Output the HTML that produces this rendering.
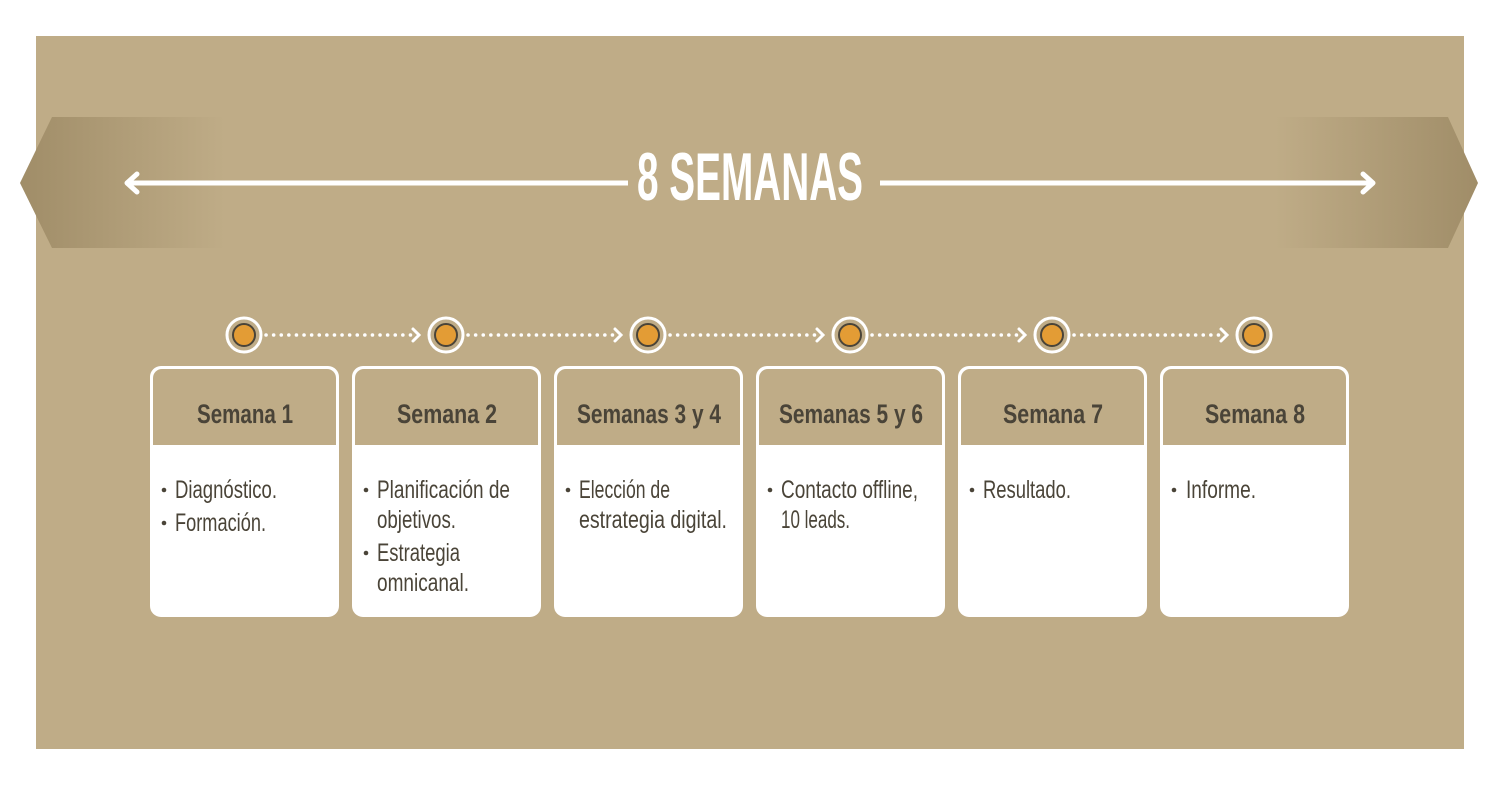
<!DOCTYPE html>
<html><head><meta charset="utf-8"><style>
html,body{margin:0;padding:0;background:#fff;}
svg{display:block}
</style></head><body>
<svg width="1500" height="786" viewBox="0 0 1500 786" xmlns="http://www.w3.org/2000/svg" font-family="'Liberation Sans Narrow','Liberation Sans',sans-serif">
<defs>
<linearGradient id="gl" x1="20" x2="225" y1="0" y2="0" gradientUnits="userSpaceOnUse">
<stop offset="0" stop-color="#a08d68"/><stop offset="1" stop-color="#bfac87"/></linearGradient>
<linearGradient id="gr" x1="1478" x2="1275" y1="0" y2="0" gradientUnits="userSpaceOnUse">
<stop offset="0" stop-color="#a08d68"/><stop offset="1" stop-color="#bfac87"/></linearGradient>
</defs>
<rect x="36" y="36" width="1428" height="713" fill="#bfac87"/>
<polygon points="52,117 225,117 225,248 52,248 20,183" fill="url(#gl)"/>
<polygon points="1448,117 1275,117 1275,248 1448,248 1478,183" fill="url(#gr)"/>
<g stroke="#fff" stroke-width="5" fill="none">
<line x1="128" y1="183" x2="628" y2="183"/>
<line x1="880" y1="183" x2="1372" y2="183"/>
<polyline points="137,174 127,183 137,192" stroke-linecap="round" stroke-linejoin="round"/>
<polyline points="1363,174 1373,183 1363,192" stroke-linecap="round" stroke-linejoin="round"/>
</g>
<text x="637" y="200" font-size="68" font-weight="bold" fill="#fff" textLength="226" lengthAdjust="spacingAndGlyphs">8 SEMANAS</text>

<g id="circles">
</g>
<g stroke="#fff" stroke-width="3" fill="none" stroke-linecap="round">
<line x1="266" y1="335" x2="414" y2="335" stroke-dasharray="0.1 7.5" stroke-width="3.5"/>
<line x1="468" y1="335" x2="616" y2="335" stroke-dasharray="0.1 7.5" stroke-width="3.5"/>
<line x1="670" y1="335" x2="818" y2="335" stroke-dasharray="0.1 7.5" stroke-width="3.5"/>
<line x1="872" y1="335" x2="1020" y2="335" stroke-dasharray="0.1 7.5" stroke-width="3.5"/>
<line x1="1074" y1="335" x2="1222" y2="335" stroke-dasharray="0.1 7.5" stroke-width="3.5"/>
<polyline points="413,329 419,335 413,341"/>
<polyline points="615,329 621,335 615,341"/>
<polyline points="817,329 823,335 817,341"/>
<polyline points="1019,329 1025,335 1019,341"/>
<polyline points="1221,329 1227,335 1221,341"/>
</g>
<g>
<circle cx="244" cy="335" r="17" fill="none" stroke="#fff" stroke-width="3"/><circle cx="244" cy="335" r="11" fill="#e39c35" stroke="#4a4438" stroke-width="2"/>
<circle cx="446" cy="335" r="17" fill="none" stroke="#fff" stroke-width="3"/><circle cx="446" cy="335" r="11" fill="#e39c35" stroke="#4a4438" stroke-width="2"/>
<circle cx="648" cy="335" r="17" fill="none" stroke="#fff" stroke-width="3"/><circle cx="648" cy="335" r="11" fill="#e39c35" stroke="#4a4438" stroke-width="2"/>
<circle cx="850" cy="335" r="17" fill="none" stroke="#fff" stroke-width="3"/><circle cx="850" cy="335" r="11" fill="#e39c35" stroke="#4a4438" stroke-width="2"/>
<circle cx="1052" cy="335" r="17" fill="none" stroke="#fff" stroke-width="3"/><circle cx="1052" cy="335" r="11" fill="#e39c35" stroke="#4a4438" stroke-width="2"/>
<circle cx="1254" cy="335" r="17" fill="none" stroke="#fff" stroke-width="3"/><circle cx="1254" cy="335" r="11" fill="#e39c35" stroke="#4a4438" stroke-width="2"/>
</g>

<g fill="#fff">
<rect x="150" y="366" width="189" height="251" rx="11"/>
<rect x="352" y="366" width="189" height="251" rx="11"/>
<rect x="554" y="366" width="189" height="251" rx="11"/>
<rect x="756" y="366" width="189" height="251" rx="11"/>
<rect x="958" y="366" width="189" height="251" rx="11"/>
<rect x="1160" y="366" width="189" height="251" rx="11"/>
</g>
<g fill="#bfac87">
<path d="M153,445 V378 a9,9 0 0 1 9,-9 H327 a9,9 0 0 1 9,9 V445 Z"/>
<path d="M355,445 V378 a9,9 0 0 1 9,-9 H529 a9,9 0 0 1 9,9 V445 Z"/>
<path d="M557,445 V378 a9,9 0 0 1 9,-9 H731 a9,9 0 0 1 9,9 V445 Z"/>
<path d="M759,445 V378 a9,9 0 0 1 9,-9 H933 a9,9 0 0 1 9,9 V445 Z"/>
<path d="M961,445 V378 a9,9 0 0 1 9,-9 H1135 a9,9 0 0 1 9,9 V445 Z"/>
<path d="M1163,445 V378 a9,9 0 0 1 9,-9 H1337 a9,9 0 0 1 9,9 V445 Z"/>
</g>
<g fill="#4a4438" font-size="27" font-weight="bold" lengthAdjust="spacingAndGlyphs">
<text x="197" y="423" textLength="96" lengthAdjust="spacingAndGlyphs">Semana 1</text>
<text x="397" y="423" textLength="100" lengthAdjust="spacingAndGlyphs">Semana 2</text>
<text x="577" y="423" textLength="144" lengthAdjust="spacingAndGlyphs">Semanas 3 y 4</text>
<text x="779" y="423" textLength="144" lengthAdjust="spacingAndGlyphs">Semanas 5 y 6</text>
<text x="1003" y="423" textLength="100" lengthAdjust="spacingAndGlyphs">Semana 7</text>
<text x="1205" y="423" textLength="100" lengthAdjust="spacingAndGlyphs">Semana 8</text>
</g>
<g fill="#4a4438" font-size="25">
<circle cx="164" cy="490" r="2.3"/><circle cx="164" cy="523" r="2.3"/>
<circle cx="366" cy="490" r="2.3"/><circle cx="366" cy="553" r="2.3"/>
<circle cx="568" cy="490" r="2.3"/>
<circle cx="770" cy="490" r="2.3"/>
<circle cx="972" cy="490" r="2.3"/>
<circle cx="1174" cy="490" r="2.3"/>
<text x="175" y="498" textLength="102" lengthAdjust="spacingAndGlyphs">Diagnóstico.</text>
<text x="175" y="531" textLength="91" lengthAdjust="spacingAndGlyphs">Formación.</text>
<text x="377" y="498" textLength="133" lengthAdjust="spacingAndGlyphs">Planificación de</text>
<text x="377" y="528" textLength="79" lengthAdjust="spacingAndGlyphs">objetivos.</text>
<text x="377" y="561" textLength="83" lengthAdjust="spacingAndGlyphs">Estrategia</text>
<text x="377" y="591" textLength="92" lengthAdjust="spacingAndGlyphs">omnicanal.</text>
<text x="579" y="498" textLength="91" lengthAdjust="spacingAndGlyphs">Elección de</text>
<text x="579" y="528" textLength="148" lengthAdjust="spacingAndGlyphs">estrategia digital.</text>
<text x="781" y="498" textLength="137" lengthAdjust="spacingAndGlyphs">Contacto offline,</text>
<text x="781" y="528" textLength="69" lengthAdjust="spacingAndGlyphs">10 leads.</text>
<text x="983" y="498" textLength="88" lengthAdjust="spacingAndGlyphs">Resultado.</text>
<text x="1186" y="498" textLength="70" lengthAdjust="spacingAndGlyphs">Informe.</text>
</g>
</svg>
</body></html>
